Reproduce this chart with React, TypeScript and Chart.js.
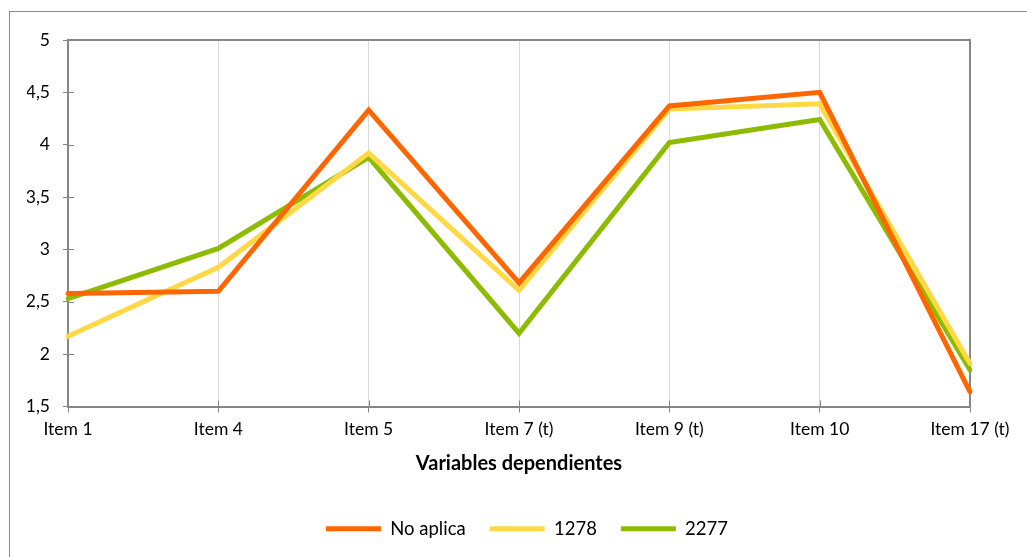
import React, { useEffect, useRef } from 'react';
import { Chart, registerables } from 'chart.js';

Chart.register(...registerables);

const categories = ['Item 1', 'Item 4', 'Item 5', 'Item 7 (t)', 'Item 9 (t)', 'Item 10', 'Item 17 (t)'];
const noAplica = [2.58, 2.6, 4.33, 2.68, 4.37, 4.5, 1.64];
const s1278 = [2.17, 2.83, 3.92, 2.61, 4.34, 4.39, 1.91];
const s2277 = [2.53, 3.01, 3.88, 2.2, 4.02, 4.24, 1.85];
const seriesNames = ['No aplica', '1278', '2277'];
const seriesColors = ['#FF6600', '#FFD845', '#8CBB00'];
const yMin = 1.5;
const yMax = 5;
const yStep = 0.5;
const xTitle = 'Variables dependientes';

const FONT = 'Lato, "Open Sans", sans-serif';
const AXIS = '#868686';

const framePlugin = {
  id: 'frame',
  beforeDraw(chart: any) {
    const ctx = chart.ctx;
    ctx.save();
    ctx.fillStyle = '#ffffff';
    ctx.fillRect(0, 0, chart.width, chart.height);
    ctx.strokeStyle = '#8a8a8a';
    ctx.lineWidth = 1;
    ctx.strokeRect(9.5, 11.5, 1200, 1200);
    ctx.restore();
  },
  beforeDatasetsDraw(chart: any) {
    const { ctx, chartArea } = chart;
    const { left, right, top, bottom } = chartArea;
    ctx.save();
    ctx.strokeStyle = AXIS;
    ctx.lineWidth = 2;
    ctx.beginPath();
    ctx.moveTo(left, top);
    ctx.lineTo(right, top);
    ctx.lineTo(right, bottom);
    ctx.stroke();
    // inner halves of tick marks
    ctx.lineWidth = 1;
    const ys = chart.scales.y;
    ys.ticks.forEach((_t: any, i: number) => {
      const py = Math.round(ys.getPixelForTick(i)) + 0.5;
      ctx.beginPath();
      ctx.moveTo(left, py);
      ctx.lineTo(left + 6, py);
      ctx.stroke();
    });
    const xs = chart.scales.x;
    xs.ticks.forEach((_t: any, i: number) => {
      const px = Math.round(xs.getPixelForTick(i)) + 0.5;
      ctx.beginPath();
      ctx.moveTo(px, bottom);
      ctx.lineTo(px, bottom - 6);
      ctx.stroke();
    });
    ctx.restore();
  },
};

export default function App() {
  const ref = useRef<HTMLCanvasElement | null>(null);
  useEffect(() => {
    if (!ref.current) return;
    const seriesData = [noAplica, s1278, s2277];
    const chart = new Chart(ref.current, {
      type: 'line',
      data: {
        labels: categories,
        datasets: seriesNames.map((name, i) => ({
          label: name,
          data: seriesData[i],
          borderColor: seriesColors[i],
          backgroundColor: seriesColors[i],
          borderWidth: 5,
          pointRadius: 0,
          borderCapStyle: 'round' as const,
          borderJoinStyle: 'miter' as const,
          tension: 0,
          fill: false,
        })),
      },
      options: {
        animation: false,
        responsive: false,
        maintainAspectRatio: false,
        layout: { padding: { left: 27, top: 40, right: 0, bottom: 9 } },
        plugins: {
          tooltip: { enabled: false },
          legend: {
            position: 'bottom',
            labels: {
              usePointStyle: true,
              pointStyle: 'line',
              pointStyleWidth: 55,
              boxHeight: 5,
              padding: 24,
              color: '#000000',
              font: { family: FONT, size: 18.5 },
            },
          },
        },
        scales: {
          x: {
            type: 'category',
            offset: false,
            afterFit: (scale: any) => {
              scale.height = 89;
            },
            grid: {
              display: true,
              drawOnChartArea: true,
              color: '#d9d9d9',
              lineWidth: 1,
              tickLength: 6,
              tickColor: AXIS,
            },
            border: { display: true, color: AXIS, width: 2 },
            ticks: {
              color: '#000000',
              font: { family: FONT, size: 17.5 },
              padding: 6,
              maxRotation: 0,
              autoSkip: false,
            },
            title: {
              display: true,
              text: xTitle,
              color: '#000000',
              font: { family: FONT, size: 20, weight: 'bold' },
              padding: { top: 4, bottom: 20 },
            },
          },
          y: {
            min: yMin,
            max: yMax,
            afterFit: (scale: any) => {
              scale.width = 41;
            },
            grid: {
              display: true,
              drawOnChartArea: false,
              tickLength: 5,
              tickColor: AXIS,
            },
            border: { display: true, color: AXIS, width: 2 },
            ticks: {
              stepSize: yStep,
              color: '#000000',
              font: { family: FONT, size: 17.5 },
              padding: 13,
              callback: (v: any) => String(v).replace('.', ','),
            },
          },
          yRightSpace: {
            type: 'linear',
            position: 'right',
            display: true,
            afterFit: (scale: any) => {
              scale.width = 57;
            },
            grid: { display: false, drawOnChartArea: false, drawTicks: false },
            border: { display: false },
            ticks: { display: false },
          },
        },
      },
      plugins: [framePlugin],
    });
    return () => chart.destroy();
  }, []);
  return (
    <div style={{ position: 'absolute', left: 0, top: 0, width: 1027, height: 557 }}>
      <canvas ref={ref} width={1027} height={557} style={{ width: 1027, height: 557 }} />
    </div>
  );
}
